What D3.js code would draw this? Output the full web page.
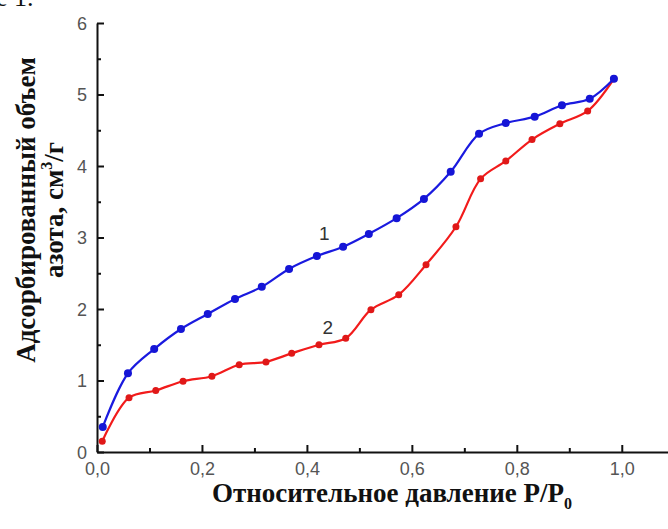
<!DOCTYPE html>
<html>
<head>
<meta charset="utf-8">
<script src="https://cdn.jsdelivr.net/npm/d3@7"></script>
<style>
  body { margin: 0; background: #fff; }
  svg { display: block; }
</style>
</head>
<body>
<div id="chart"></div>
<script>
var w = 668, h = 529;

// curve 1 (blue)
var p1 = [0.011, 0.059, 0.109, 0.160, 0.211, 0.263, 0.314, 0.366, 0.419, 0.469,
          0.518, 0.571, 0.623, 0.674, 0.728, 0.779, 0.834, 0.886, 0.939, 0.985];
var v1 = [0.35, 1.10, 1.44, 1.72, 1.93, 2.14, 2.31, 2.56, 2.74, 2.87,
          3.05, 3.27, 3.54, 3.92, 4.45, 4.60, 4.69, 4.85, 4.94, 5.22];

// curve 2 (red)
var p2 = [0.010, 0.061, 0.112, 0.164, 0.219, 0.271, 0.322, 0.371, 0.423, 0.474,
          0.522, 0.575, 0.627, 0.684, 0.731, 0.779, 0.829, 0.882, 0.935, 0.985];
var v2 = [0.15, 0.76, 0.86, 0.99, 1.06, 1.22, 1.26, 1.38, 1.50, 1.59,
          1.99, 2.20, 2.62, 3.15, 3.82, 4.07, 4.37, 4.59, 4.77, 5.22];

var xMajor = [0, 0.2, 0.4, 0.6, 0.8, 1.0];
var xMinor = [0.1, 0.3, 0.5, 0.7, 0.9];
var yMajor = [0, 1, 2, 3, 4, 5, 6];
var yMinor = [0.5, 1.5, 2.5, 3.5, 4.5, 5.5];

var svg = d3.select("#chart").append("svg")
  .attr("width", w)
  .attr("height", h);

var xScale = d3.scaleLinear().domain([0, 1.09]).range([97, 669]);
var yScale = d3.scaleLinear().domain([0, 6]).range([452, 23]);

// fragment of the caption above the figure (cut by the top edge)
svg.append("text")
  .attr("x", -4).attr("y", 6)
  .attr("font-family", "Liberation Serif, serif")
  .attr("font-size", "26px")
  .attr("fill", "#111")
  .text("е 1.");

// minor ticks
svg.append("g")
  .attr("transform", "translate(0,452)")
  .call(d3.axisBottom(xScale).tickValues(xMinor).tickSize(-4).tickFormat(""))
  .call(function(g) { g.select(".domain").remove(); });

svg.append("g")
  .attr("transform", "translate(97,0)")
  .call(d3.axisLeft(yScale).tickValues(yMinor).tickSize(-4).tickFormat(""))
  .call(function(g) { g.select(".domain").remove(); });

var fmt = function(d) { return d3.format(".1f")(d).replace(".", ","); };

var xAxis = svg.append("g")
  .attr("transform", "translate(0,452)")
  .call(d3.axisBottom(xScale).tickValues(xMajor).tickSize(-7).tickSizeOuter(0)
    .tickPadding(10).tickFormat(fmt));

var yAxis = svg.append("g")
  .attr("transform", "translate(97,0)")
  .call(d3.axisLeft(yScale).tickValues(yMajor).tickSize(-7).tickSizeOuter(0)
    .tickPadding(10).tickFormat(d3.format("d")));

svg.selectAll(".tick line, .domain")
  .attr("stroke", "#111")
  .attr("stroke-width", 2);

svg.selectAll(".tick text")
  .attr("font-family", "Liberation Sans, Arial, sans-serif")
  .attr("font-size", "18px")
  .attr("fill", "#555");

yAxis.selectAll(".tick text").attr("dy", "0.36em");

// lines
var line = d3.line()
  .x(function(d) { return xScale(d[0]); })
  .y(function(d) { return yScale(d[1]); })
  .curve(d3.curveCatmullRom.alpha(0.5));

var s1 = d3.zip(p1, v1);
var s2 = d3.zip(p2, v2);

svg.append("path")
  .datum(s2)
  .attr("fill", "none")
  .attr("stroke", "#f21b1b")
  .attr("stroke-width", 2.2)
  .attr("d", line);

svg.append("path")
  .datum(s1)
  .attr("fill", "none")
  .attr("stroke", "#1a1adf")
  .attr("stroke-width", 2.2)
  .attr("d", line);

svg.selectAll(".m2")
  .data(s2)
  .enter()
  .append("circle")
  .attr("class", "m2")
  .attr("cx", function(d) { return xScale(d[0]); })
  .attr("cy", function(d) { return yScale(d[1]); })
  .attr("r", 3.5)
  .attr("fill", "#e01818");

svg.selectAll(".m1")
  .data(s1)
  .enter()
  .append("circle")
  .attr("class", "m1")
  .attr("cx", function(d) { return xScale(d[0]); })
  .attr("cy", function(d) { return yScale(d[1]); })
  .attr("r", 4)
  .attr("fill", "#1515d6");

// curve labels
svg.append("text")
  .attr("x", xScale(0.433)).attr("y", yScale(2.97))
  .attr("text-anchor", "middle")
  .attr("font-family", "Liberation Sans, Arial, sans-serif")
  .attr("font-size", "19px")
  .attr("fill", "#333")
  .text("1");

svg.append("text")
  .attr("x", xScale(0.44)).attr("y", yScale(1.65))
  .attr("text-anchor", "middle")
  .attr("font-family", "Liberation Sans, Arial, sans-serif")
  .attr("font-size", "19px")
  .attr("fill", "#333")
  .text("2");

// axis titles
var xt = svg.append("text")
  .attr("x", 392).attr("y", 502)
  .attr("text-anchor", "middle")
  .attr("font-family", "Liberation Serif, Times New Roman, serif")
  .attr("font-weight", "bold")
  .attr("font-size", "27px")
  .attr("fill", "#111");
xt.append("tspan").text("Относительное давление P/P");
xt.append("tspan").attr("font-size", "16px").attr("dy", "7").text("0");

var yt = svg.append("g")
  .attr("transform", "translate(35,210) rotate(-90)");

yt.append("text")
  .attr("x", 0).attr("y", 0)
  .attr("text-anchor", "middle")
  .attr("font-family", "Liberation Serif, Times New Roman, serif")
  .attr("font-weight", "bold")
  .attr("font-size", "27px")
  .attr("fill", "#111")
  .text("Адсорбированный объем");

var yt2 = yt.append("text")
  .attr("x", 0).attr("y", 28)
  .attr("text-anchor", "middle")
  .attr("font-family", "Liberation Serif, Times New Roman, serif")
  .attr("font-weight", "bold")
  .attr("font-size", "27px")
  .attr("fill", "#111");
yt2.append("tspan").text("азота, см");
yt2.append("tspan").attr("font-size", "16px").attr("dy", "-11").text("3");
yt2.append("tspan").attr("dy", "11").text("/г");
</script>
</body>
</html>
